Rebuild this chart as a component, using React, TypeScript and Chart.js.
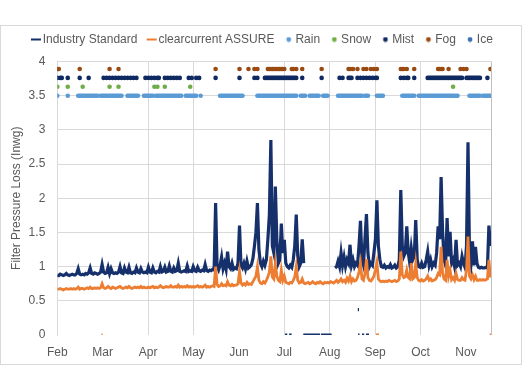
import React, { useEffect, useRef } from 'react';
import { Chart, registerables, layouts } from 'chart.js';

Chart.register(...registerables);

// ---------- axis data ----------
const monthLabels = ['Feb', 'Mar', 'Apr', 'May', 'Jun', 'Jul', 'Aug', 'Sep', 'Oct', 'Nov'];
const monthTickDays = [0, 30.4, 60.8, 91.2, 121.6, 152, 182.4, 212.8, 243.2, 273.6];
const monthGridVisible = [true, false, true, true, false, true, true, true, true, false];
const lastDay = 290.4;
const yTicksMax = 4;
const yTickStep = 0.5;

// ---------- series (one value per day from 1 Feb) ----------
const industryStandard = [
  0.88, 0.87, 0.89, 0.88, 0.87, 0.88, 0.90, 0.88, 0.87, 0.88,
  0.89, 0.88, 0.88, 0.90, 0.97, 0.89, 0.88, 0.89, 0.88, 0.90,
  0.89, 0.91, 0.98, 0.90, 0.89, 0.91, 0.90, 0.89, 0.90, 0.92,
  1.03, 0.92, 0.90, 0.91, 0.99, 0.90, 0.97, 0.91, 0.90, 0.91,
  0.90, 0.92, 1.00, 0.91, 0.90, 0.98, 0.92, 0.91, 0.99, 0.91,
  0.90, 0.92, 0.91, 0.98, 0.92, 0.91, 0.97, 0.92, 0.91, 0.92,
  0.91, 0.99, 0.92, 0.91, 0.98, 0.92, 0.91, 0.93, 0.92, 1.00,
  0.92, 0.93, 0.99, 0.92, 0.93, 1.01, 0.93, 0.92, 0.98, 0.93,
  0.94, 1.05, 0.93, 0.92, 0.93, 0.94, 0.93, 1.01, 0.93, 0.94,
  0.93, 1.00, 0.94, 0.93, 0.99, 0.94, 0.93, 0.95, 0.94, 1.03,
  0.94, 0.93, 0.95, 0.94, 0.96, 0.95, 1.93, 1.00, 0.95, 1.02,
  1.14, 0.97, 1.05, 0.96, 1.22, 1.00, 0.97, 1.05, 0.96, 0.98,
  0.97, 1.05, 1.60, 1.02, 0.98, 1.05, 0.97, 1.08, 0.98, 1.00,
  1.03, 1.12, 1.30, 1.50, 1.93, 1.25, 1.05, 1.00, 1.08, 1.02,
  1.10, 1.40, 1.76, 2.85, 1.30, 1.20, 2.17, 1.40, 1.05, 1.10,
  1.63, 1.20, 1.39, 1.05, 1.00, 0.98, 1.02, 0.99, 1.10, 1.30,
  1.76, 1.15, 1.00, 1.05, 1.40, 1.05, null, null, null, null,
  null, null, null, null, null, null, null, null, null, null,
  null, null, null, null, null, null, 0.98, 1.00, 1.08, 1.00,
  1.20, 1.02, 1.14, 1.00, 1.10, 1.05, 1.32, 1.02, 1.10, 1.00,
  1.05, 1.02, 1.30, 1.67, 1.10, 1.02, 1.40, 1.77, 1.20, 1.00,
  1.05, 1.02, 1.20, 1.40, 1.97, 1.30, 1.10, 1.00, 0.99, 1.02,
  0.98, 1.00, 0.99, 1.03, 0.98, 0.99, 1.02, 0.98, 1.00, 1.10,
  2.12, 1.30, 1.15, 1.20, 1.59, 1.20, 1.05, 1.27, 1.10, 1.15,
  1.68, 1.10, 1.00, 0.99, 1.05, 0.99, 1.00, 1.10, 1.22, 1.02,
  1.10, 1.00, 1.05, 1.02, 1.20, 1.59, 1.40, 2.31, 1.50, 1.10,
  1.02, 1.71, 1.15, 1.51, 1.05, 1.10, 1.00, 1.39, 1.02, 1.05,
  1.00, 1.15, 1.05, 0.99, 1.30, 2.82, 1.20, 1.05, 1.37, 1.02,
  1.29, 1.05, 0.99, 0.98, 0.99, 0.98, 0.98, 0.99, 0.98, 1.60,
  1.30,
];

const clearcurrentAssure = [
  0.67, 0.67, 0.68, 0.67, 0.66, 0.67, 0.68, 0.67, 0.67, 0.68,
  0.67, 0.68, 0.67, 0.68, 0.70, 0.67, 0.68, 0.68, 0.67, 0.68,
  0.69, 0.68, 0.70, 0.68, 0.68, 0.69, 0.68, 0.69, 0.68, 0.69,
  0.75, 0.69, 0.68, 0.69, 0.71, 0.69, 0.68, 0.70, 0.69, 0.68,
  0.69, 0.70, 0.71, 0.69, 0.68, 0.69, 0.70, 0.69, 0.71, 0.69,
  0.68, 0.69, 0.70, 0.69, 0.70, 0.69, 0.71, 0.69, 0.70, 0.69,
  0.69, 0.70, 0.69, 0.70, 0.71, 0.69, 0.70, 0.69, 0.70, 0.72,
  0.70, 0.69, 0.70, 0.71, 0.70, 0.70, 0.72, 0.70, 0.70, 0.71,
  0.70, 0.73, 0.70, 0.71, 0.70, 0.71, 0.70, 0.72, 0.70, 0.71,
  0.70, 0.71, 0.70, 0.71, 0.72, 0.70, 0.71, 0.70, 0.71, 0.73,
  0.70, 0.71, 0.70, 0.71, 0.72, 0.71, 1.00, 0.74, 0.71, 0.72,
  0.75, 0.72, 0.73, 0.72, 0.78, 0.73, 0.72, 0.74, 0.72, 0.73,
  0.73, 0.75, 0.93, 0.76, 0.73, 0.75, 0.73, 0.77, 0.74, 0.75,
  0.74, 0.78, 0.82, 0.86, 1.00, 0.80, 0.76, 0.75, 0.78, 0.76,
  0.80, 0.85, 0.92, 1.15, 0.85, 0.82, 1.04, 0.86, 0.80, 0.78,
  0.95, 0.80, 0.86, 0.77, 0.76, 0.75, 0.77, 0.76, 0.80, 0.85,
  1.00, 0.80, 0.76, 0.77, 0.82, 0.76, 0.75, 0.76, 0.77, 0.75,
  0.76, 0.78, 0.76, 0.75, 0.77, 0.76, 0.78, 0.76, 0.75, 0.77,
  0.76, 0.77, 0.76, 0.78, 0.77, 0.76, 0.78, 0.80, 0.77, 0.79,
  0.82, 0.78, 0.80, 0.77, 0.83, 0.79, 0.86, 0.78, 0.82, 0.79,
  0.80, 0.84, 0.92, 1.05, 0.82, 0.80, 0.90, 1.11, 0.84, 0.80,
  0.79, 0.82, 0.86, 0.95, 1.06, 0.82, 0.79, 0.78, 0.79, 0.78,
  0.79, 0.78, 0.80, 0.79, 0.78, 0.79, 0.80, 0.78, 0.79, 0.82,
  1.22, 0.88, 0.84, 0.85, 0.95, 0.84, 0.82, 1.05, 0.82, 0.84,
  1.05, 0.84, 0.80, 0.79, 0.81, 0.79, 0.80, 0.82, 0.86, 0.80,
  0.82, 0.79, 0.80, 0.81, 0.84, 0.90, 0.88, 1.29, 0.90, 0.82,
  0.80, 1.10, 0.86, 0.95, 0.81, 0.84, 0.80, 0.90, 0.81, 0.80,
  0.80, 0.84, 0.81, 0.80, 0.95, 1.44, 0.86, 0.82, 0.88, 0.81,
  0.86, 0.80, 0.80, 0.81, 0.80, 0.81, 0.80, 0.81, 0.82, 1.10,
  0.84,
];

// short off-line readings: [fromDay, toDay, value]
const industryOffReadings = [
  [152.5, 154, 0], [155.2, 156.9, 0], [164.7, 176, 0], [176.6, 183.7, 0],
  [201.4, 202.4, 0], [204, 205.5, 0], [206.7, 208.7, 0], [201.2, 202, 0.37],
];
const assureOffReadings = [
  [29.6, 30.4, 0], [213.4, 215.4, 0], [289.6, 290.4, 0],
];

// ---------- weather events (day numbers) ----------
const rainLevel = 3.5;
const snowLevel = 3.63;
const mistLevel = 3.76;
const fogLevel = 3.89;
const iceLevel = 4.02;

const rainDays = [
  0, 7, 14, 15, 16, 17, 18, 19, 20, 21, 22, 23, 24, 25, 26, 27,
  29, 30, 31, 32, 33, 34, 35, 36, 37, 38, 39, 40, 41, 42, 43,
  47, 48, 49, 50, 51, 52, 53, 54, 58, 59, 60, 61, 62, 63, 64,
  66, 67, 68, 69, 70, 71, 72, 73, 74, 75, 76, 77, 78, 79, 80, 81, 82, 83,
  86, 87, 88, 89, 90, 91, 92, 93, 96,
  109, 110, 111, 112, 113, 114, 115, 116, 117, 118, 119, 120, 121, 122, 123, 124,
  134, 135, 136, 137, 138, 139, 140, 141, 142, 143, 144, 145, 146, 147, 148, 149,
  150, 151, 152, 153, 154, 155, 156, 157, 158, 159, 160,
  163, 164, 165, 166, 169, 170, 171, 172, 173, 174, 175, 178, 179, 180, 181,
  188, 189, 190, 191, 192, 193, 194, 195, 196, 197, 198, 199, 200, 201, 202, 203, 204,
  206, 207, 208, 214, 215, 216, 217, 218,
  231, 232, 233, 234, 235, 236, 237, 238, 239,
  242, 243, 244, 245, 246, 247, 248, 249, 250, 251, 252, 253, 254, 255,
  256, 257, 258, 259, 260, 261, 262, 263, 264, 265, 266, 267, 268,
  276, 277, 278, 279, 280, 281, 282, 283, 285, 286, 287, 288, 289, 290,
];
const snowDays = [0, 7, 17, 35, 41, 65, 67, 72, 89, 265];
const mistDays = [
  0, 2, 3, 7, 15, 21, 31, 33, 35, 37, 39, 41, 43, 45, 47, 49, 51, 53,
  59, 61, 63, 65, 67, 68, 72, 74, 76, 78, 80, 82, 88, 90, 93, 95,
  106, 122, 132, 134,
  139, 140, 141, 142, 143, 144, 145, 146, 147, 148, 149, 150, 151, 152,
  153, 154, 155, 156, 157, 158, 159, 160,
  164, 177, 189, 191, 195, 196, 197, 201, 203, 205, 207, 209, 211, 213, 214,
  230, 232, 234, 235, 239,
  248, 249, 250, 251, 252, 253, 254, 255, 256, 257, 258, 259, 260, 261,
  262, 263, 264, 265, 266, 267, 268, 269, 270, 271,
  274, 275, 276, 277, 278, 279, 280, 281, 282, 283, 288,
];
const fogDays = [
  0, 1, 15, 35, 41, 106, 122, 128, 132, 134,
  141, 142, 143, 144, 145, 146, 147, 148, 149, 150, 151, 152,
  157, 158, 160, 164, 177, 195, 196, 198, 201, 205, 207, 210, 212, 214,
  230, 231, 232, 234, 239, 255, 256, 257, 258, 262, 270, 272, 274, 290,
];
const iceDays: number[] = [];

// ---------- colours ----------
const navy = '#15306B';
const orange = '#ED7D31';
const rainColor = '#5B9BD5';
const snowColor = '#70AD47';
const mistColor = '#0F2A62';
const fogColor = '#9A4A10';
const iceColor = '#3A6DB5';
const gridColor = '#d9d9d9';
const textColor = '#595959';

function seriesPoints(values: (number | null)[], off: number[][]) {
  const pts: any[] = values.map((v, i) => ({ x: i, y: v }));
  off.forEach(([a, b, v]) => {
    pts.push({ x: a, y: null });
    pts.push({ x: a, y: v });
    pts.push({ x: b, y: v });
  });
  return pts;
}

function eventPoints(days: number[], level: number) {
  return days.map((d) => ({ x: d, y: level }));
}

function makeMarker(color: string, kind: 'line' | 'dot') {
  const c = document.createElement('canvas');
  c.width = 18;
  c.height = 6;
  const g = c.getContext('2d')!;
  g.fillStyle = color;
  if (kind === 'line') {
    g.fillRect(7, 2, 10, 2);
  } else {
    g.beginPath();
    g.arc(12, 3, 2.4, 0, Math.PI * 2);
    g.fill();
  }
  return c;
}

function makeSpacer(position: 'top' | 'right', size: number) {
  const horizontal = position === 'top';
  const box: any = {
    position,
    weight: 0,
    fullSize: false,
    options: {},
    width: 0,
    height: 0,
    top: 0,
    left: 0,
    right: 0,
    bottom: 0,
    isHorizontal: () => horizontal,
    update(maxWidth: number, maxHeight: number) {
      if (horizontal) {
        box.width = maxWidth;
        box.height = size;
      } else {
        box.width = size;
        box.height = maxHeight;
      }
    },
    draw() {},
  };
  return box;
}

const spacerPlugin = {
  id: 'spacers',
  beforeInit(chart: any) {
    layouts.addBox(chart, makeSpacer('top', 6));
    layouts.addBox(chart, makeSpacer('right', 30));
  },
};

export default function App() {
  const ref = useRef<HTMLCanvasElement | null>(null);

  useEffect(() => {
    if (!ref.current) return;
    Chart.defaults.font.family = "'Liberation Sans', Arial, sans-serif";
    Chart.defaults.font.size = 12;
    Chart.defaults.color = textColor;

    const datasets: any[] = [
      {
        label: 'clearcurrent ASSURE',
        type: 'line',
        data: seriesPoints(clearcurrentAssure, assureOffReadings),
        borderColor: orange,
        backgroundColor: orange,
        borderWidth: 2.8,
        pointRadius: 0,
        spanGaps: false,
        tension: 0,
      },
      {
        label: 'Industry Standard',
        type: 'line',
        data: seriesPoints(industryStandard, industryOffReadings),
        borderColor: navy,
        backgroundColor: navy,
        borderWidth: 3.2,
        pointRadius: 0,
        spanGaps: false,
        tension: 0,
      },
      { label: 'Rain', data: eventPoints(rainDays, rainLevel), color: rainColor },
      { label: 'Snow', data: eventPoints(snowDays, snowLevel), color: snowColor },
      { label: 'Mist', data: eventPoints(mistDays, mistLevel), color: mistColor },
      { label: 'Fog', data: eventPoints(fogDays, fogLevel), color: fogColor },
      { label: 'Ice', data: eventPoints(iceDays, iceLevel), color: iceColor },
    ].map((d: any) =>
      d.type
        ? d
        : {
            label: d.label,
            type: 'scatter',
            data: d.data,
            showLine: false,
            pointStyle: 'circle',
            pointRadius: 2.3,
            pointBorderWidth: 0,
            backgroundColor: d.color,
            borderColor: d.color,
          }
    );

    const legendOrder = [1, 0, 2, 3, 4, 5, 6];
    const markers = legendOrder.map((i) =>
      makeMarker(datasets[i].borderColor, i < 2 ? 'line' : 'dot')
    );

    const chart = new Chart(ref.current, {
      type: 'line',
      data: { datasets },
      plugins: [spacerPlugin],
      options: {
        animation: false,
        responsive: false,
        devicePixelRatio: 1,
        events: [],
        layout: { padding: { left: 0, right: 0, top: 0, bottom: 0 } },
        plugins: {
          tooltip: { enabled: false },
          legend: {
            display: true,
            position: 'top',
            labels: {
              usePointStyle: true,
              boxWidth: 7.5,
              boxHeight: 12,
              padding: 7.5,
              color: textColor,
              font: { size: 12 },
              generateLabels: () =>
                legendOrder.map((i, k) => ({
                  text: datasets[i].label,
                  fillStyle: datasets[i].borderColor,
                  strokeStyle: datasets[i].borderColor,
                  lineWidth: 0,
                  pointStyle: markers[k],
                  hidden: false,
                  datasetIndex: i,
                  fontColor: textColor,
                })),
            },
          },
        },
        scales: {
          x: {
            type: 'linear',
            min: 0,
            max: lastDay,
            afterBuildTicks: (scale: any) => {
              scale.ticks = [...monthTickDays, lastDay].map((v) => ({ value: v }));
            },
            afterFit: (scale: any) => {
              scale.height = 29;
            },
            ticks: {
              autoSkip: false,
              maxRotation: 0,
              padding: 10,
              color: textColor,
              callback: (_v: any, i: number) => monthLabels[i] ?? '',
            },
            grid: {
              drawTicks: false,
              lineWidth: 1,
              color: (ctx: any) =>
                ctx.index < monthLabels.length
                  ? monthGridVisible[ctx.index]
                    ? gridColor
                    : 'rgba(0,0,0,0)'
                  : '#bfbfbf',
            },
            border: { display: false },
          },
          y: {
            min: 0,
            max: yTicksMax,
            afterFit: (scale: any) => {
              scale.width = 56.3;
            },
            ticks: {
              stepSize: yTickStep,
              padding: 12,
              color: textColor,
              callback: (v: any) => String(Number(v)),
            },
            grid: {
              drawTicks: false,
              color: (ctx: any) =>
                ctx.tick && ctx.tick.value === 0 ? 'rgba(0,0,0,0)' : gridColor,
            },
            border: { display: true, color: gridColor },
            title: {
              display: true,
              text: 'Filter Pressure Loss (Inwg)',
              color: textColor,
              font: { size: 12 },
              padding: { top: 8.5, bottom: 0 },
            },
          },
        },
      } as any,
    });
    return () => chart.destroy();
  }, []);

  return (
    <div
      style={{
        position: 'absolute',
        left: 0,
        top: 25,
        width: 522,
        height: 340,
        border: '1px solid #d9d9d9',
        boxSizing: 'border-box',
        background: '#fff',
      }}
    >
      <canvas ref={ref} width={520} height={338} style={{ display: 'block' }} />
    </div>
  );
}
